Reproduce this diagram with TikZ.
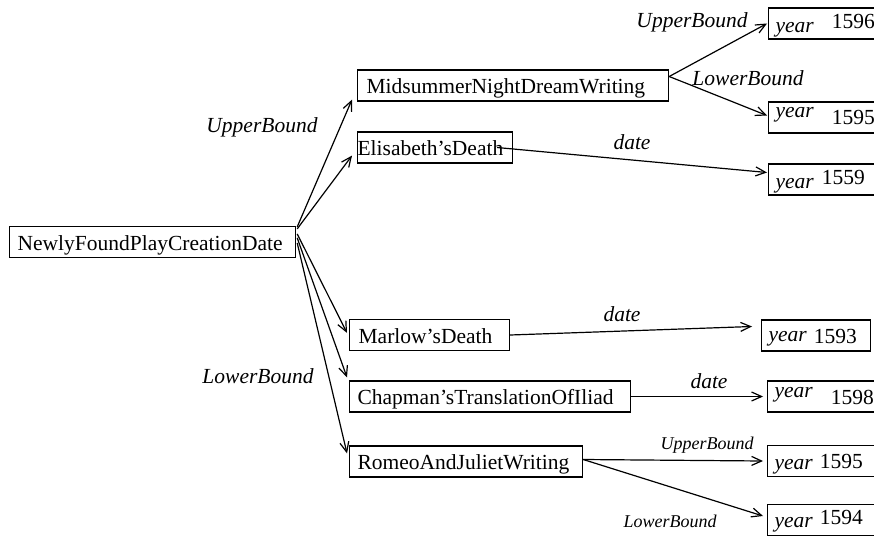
\documentclass[tikz,border=0pt]{standalone}
\usepackage{fontspec}
\setmainfont{Liberation Serif}
\usetikzlibrary{arrows.meta,calc}
\newcommand{\yr}[2]{\raisebox{#1}{\itshape year}#2}
\begin{document}
\begin{tikzpicture}[x=1pt,y=-1pt,
  every node/.style={font=\fontsize{21.5}{24}\selectfont},
  box/.style={draw,line width=1.2pt,rectangle,minimum height=31pt,inner xsep=8pt,inner ysep=0pt,
    text height=17pt,text depth=1pt,anchor=west,align=left},
  yearbox/.style={box,inner xsep=7pt,text width=130pt},
  lbl/.style={font=\fontsize{21.5}{24}\selectfont\itshape,inner sep=0pt},
  smalllbl/.style={font=\fontsize{18}{20}\selectfont\itshape,inner sep=0pt},
  link/.style={line width=1.2pt,-{Straight Barb[length=10pt,width=9pt,line width=1.2pt]}}]
\useasboundingbox (0,0) rectangle (874,535);

% concept nodes
\node[box,text width=270pt] (newly) at (9,242) {NewlyFoundPlayCreationDate};
\node[box,inner xsep=9pt,text width=293pt] (mid) at (357,85.5) {MidsummerNightDreamWriting};
\node[box,inner xsep=0pt,text width=155pt] (elis) at (357,147.5) {Elisabeth'sDeath};
\node[box,inner xsep=9pt,text width=142pt] (marlow) at (349,335) {Marlow'sDeath};
\node[box,text width=265pt] (chap) at (349,396.5) {Chapman'sTranslationOfIliad};
\node[box,text width=217pt] (romeo) at (349,461.5) {RomeoAndJulietWriting};

% year values
\node[yearbox] (y1596) at (768,23.5) {\yr{-1.5pt}{\hspace{18pt}\raisebox{2.5pt}{1596}}};
\node[yearbox] (y1595a) at (768,117.5) {\yr{8.5pt}{\hspace{18pt}\raisebox{1.5pt}{1595}}};
\node[yearbox] (y1559) at (768,179.5) {\yr{-0.5pt}{\hspace{8pt}\raisebox{3.5pt}{1559}}};
\node[box,inner xsep=7pt,text width=95pt] (y1593) at (761,335.5) {\yr{2pt}{~1593}};
\node[yearbox] (y1598) at (767,396.5) {\yr{7.5pt}{\hspace{18pt}1598}};
\node[yearbox] (y1595b) at (767,461) {\yr{0pt}{~\raisebox{1pt}{1595}}};
\node[yearbox] (y1594) at (767,520) {\yr{1pt}{~\raisebox{4pt}{1594}}};

% bounds of the creation date
\draw[link] ($(newly.north east)+(1,1)$) -- ($(mid.south west)+(-5,-2)$);
\draw[link] ($(newly.north east)+(1,3)$) -- ($(elis.south west)+(-5,-8)$);
\draw[link] ($(newly.north east)+(1,8)$) -- ($(marlow.north west)+(-2,14)$);
\draw[link] ($(newly.north east)+(1,12)$) -- ($(chap.north west)+(-2,-3)$);
\draw[link] ($(newly.north east)+(1,17)$) -- ($(romeo.north west)+(-2,8)$);
\node[lbl] (ub) at (262,127) {UpperBound};
\node[lbl] (lb) at (258,376) {LowerBound};

% dates of the events
\draw[link] ($(mid.east)+(0,-9)$) -- ($(y1596.west)+(-1,0)$);
\draw[link] ($(mid.east)+(0,-9)$) -- ($(y1595a.west)+(-1,-2)$);
\node[lbl] (ub2) at (692,22) {UpperBound};
\node[lbl] (lb2) at (748,78) {LowerBound};

\draw[link] ($(elis.west)+(140,0)$) -- ($(y1559.west)+(-1,-7)$);
\node[lbl] (d1) at (632,142) {date};

\draw[link] (marlow.east) -- ($(y1593.west)+(-9,-9)$);
\node[lbl] (d2) at (622,314) {date};

\draw[link] (chap.east) -- ($(y1598.west)+(-4,0)$);
\node[lbl] (d3) at (709,381) {date};

\draw[link] ($(romeo.east)+(0,-2)$) -- ($(y1595b.west)+(-4,0)$);
\draw[link] ($(romeo.east)+(0,-2)$) -- ($(y1594.west)+(-4,-4)$);
\node[smalllbl] (ub3) at (707,445) {UpperBound};
\node[smalllbl] (lb3) at (670,521) {LowerBound};
\end{tikzpicture}
\end{document}
